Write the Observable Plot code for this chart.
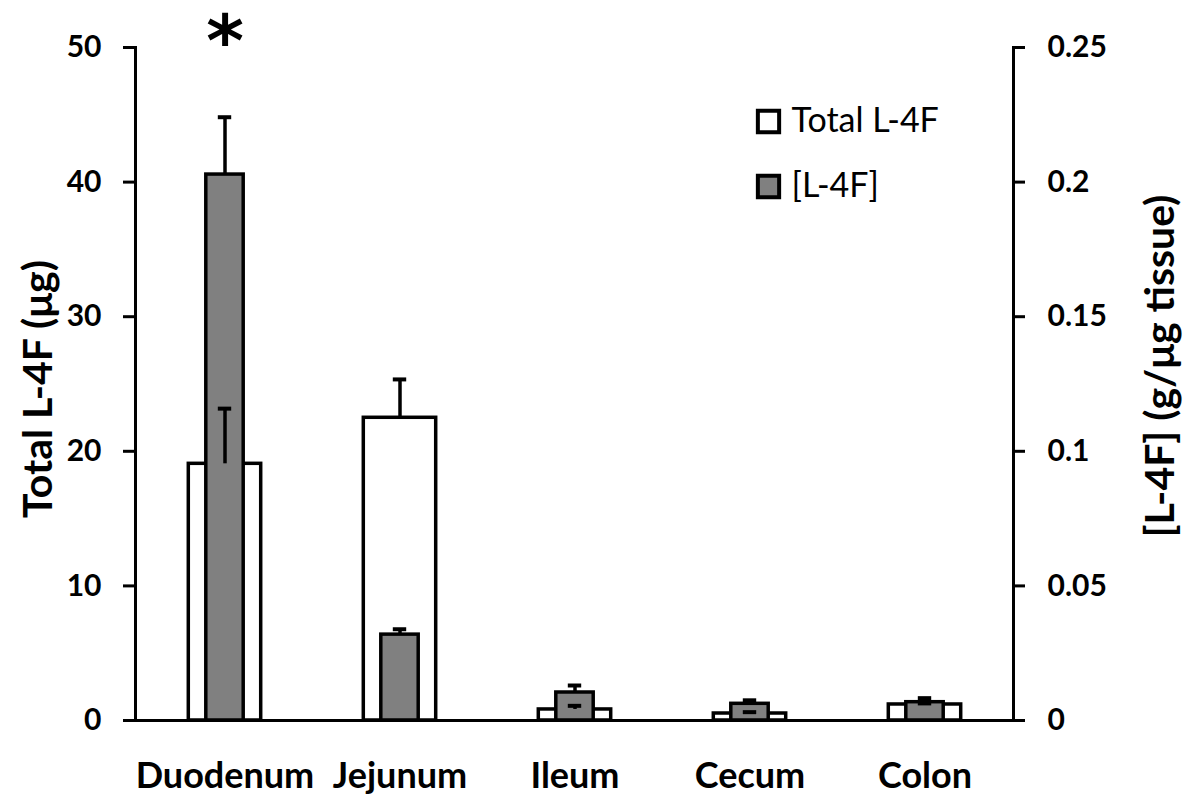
<!DOCTYPE html>
<html>
<head>
<meta charset="utf-8">
<script src="https://cdn.jsdelivr.net/npm/d3@7"></script>
<script src="https://cdn.jsdelivr.net/npm/@observablehq/plot@0.6"></script>
<style>
  html, body { margin: 0; padding: 0; background: #fff; }
  #chart svg { display: block; }
</style>
</head>
<body>
<div id="chart"></div>
<script>
const categories = ["Duodenum", "Jejunum", "Ileum", "Cecum", "Colon"];
const totalMean = [19.07, 22.49, 0.82, 0.52, 1.19];
const totalErr = [4.1, 2.85, 0.27, 0.1, 0.08];
const concMean = [0.2028, 0.0319, 0.0104, 0.0062, 0.0068];
const concErr = [0.0213, 0.0020, 0.0026, 0.0013, 0.0015];
const leftTicks = [0, 10, 20, 30, 40, 50];
const rightTicks = [0, 0.05, 0.1, 0.15, 0.2, 0.25];
const significance = [{cat: "Duodenum", mark: "*"}];
const legendItems = [
  {label: "Total L-4F", fill: "white"},
  {label: "[L-4F]", fill: "#808080"}
];

const ratio = 50 / 0.25; // right axis (concentration) mapped onto left axis scale
const rows = categories.map((c, i) => ({
  cat: c,
  total: totalMean[i], totalTop: totalMean[i] + totalErr[i],
  conc: concMean[i] * ratio, concTop: (concMean[i] + concErr[i]) * ratio
}));

const font = "Lato, 'Open Sans', sans-serif";
const W = 1186, H = 799;
const mL = 135, mR = 173, mT = 47, mB = 79;
const band = (W - mL - mR) / categories.length;
const wideInset = (band - 73) / 2;
const narrowInset = (band - 38) / 2;
const capInset = (band - 14) / 2;

const chart = Plot.plot({
  width: W, height: H,
  marginLeft: mL, marginRight: mR, marginTop: mT, marginBottom: mB,
  style: {fontFamily: font, fontWeight: "bold", color: "#000", background: "#fff"},
  x: {domain: categories, padding: 0, axis: null},
  y: {domain: [0, 50], axis: null},
  marks: [
    Plot.barY(rows, {x: "cat", y: "total", fill: "white", stroke: "black", strokeWidth: 3.5,
      insetLeft: wideInset, insetRight: wideInset}),
    Plot.barY(rows, {x: "cat", y: "conc", fill: "#808080", stroke: "black", strokeWidth: 3.5,
      insetLeft: narrowInset, insetRight: narrowInset}),
    Plot.ruleX(rows, {x: "cat", y1: "total", y2: "totalTop", stroke: "black", strokeWidth: 3.5}),
    Plot.tickY(rows, {x: "cat", y: "totalTop", stroke: "black", strokeWidth: 4,
      insetLeft: capInset, insetRight: capInset}),
    Plot.ruleX(rows, {x: "cat", y1: "conc", y2: "concTop", stroke: "black", strokeWidth: 3.5}),
    Plot.tickY(rows, {x: "cat", y: "concTop", stroke: "black", strokeWidth: 4,
      insetLeft: capInset, insetRight: capInset}),
    Plot.ruleY([0], {stroke: "black", strokeWidth: 3}),
    Plot.frame({anchor: "left", stroke: "black", strokeWidth: 3}),
    Plot.frame({anchor: "right", stroke: "black", strokeWidth: 3}),
    Plot.axisY({anchor: "left", ticks: leftTicks, tickSize: 12, tickPadding: 22,
      strokeWidth: 3, fontSize: 30, fontWeight: "bold", label: null}),
    Plot.axisY({anchor: "right", ticks: rightTicks.map(v => v * ratio), tickSize: 11, tickPadding: 23,
      tickFormat: d => String(+(d / ratio).toFixed(3)),
      strokeWidth: 3, fontSize: 30, fontWeight: "bold", label: null}),
    Plot.axisX({anchor: "bottom", tickSize: 0, tickPadding: 42, fontSize: 36, fontWeight: "bold", label: null}),
    Plot.text(["Total L-4F (μg)"], {frameAnchor: "left", dx: -97, dy: 5, rotate: -90,
      textAnchor: "middle", lineAnchor: "middle",
      fontSize: 41, fontWeight: "bold", text: d => d}),
    Plot.text(["[L-4F] (g/μg tissue)"], {frameAnchor: "right", dx: 147, dy: -18, rotate: -90,
      textAnchor: "middle", lineAnchor: "middle",
      fontSize: 41, fontWeight: "bold", text: d => d}),
    Plot.text(significance, {x: "cat", frameAnchor: "top", text: "mark", dy: -33,
      lineAnchor: "top", fontFamily: "'DejaVu Sans', sans-serif",
      fontSize: 72, fontWeight: "bold"}),
    Plot.dot([legendItems[0]], {frameAnchor: "top-left", dx: 633, dy: 74, symbol: "square", r: 12,
      fill: "fill", stroke: "black", strokeWidth: 4}),
    Plot.dot([legendItems[1]], {frameAnchor: "top-left", dx: 633, dy: 139, symbol: "square", r: 12,
      fill: "fill", stroke: "black", strokeWidth: 4}),
    Plot.text([legendItems[0]], {frameAnchor: "top-left", dx: 656, dy: 74, text: "label",
      textAnchor: "start", lineAnchor: "middle", fontSize: 34, fontWeight: "normal"}),
    Plot.text([legendItems[1]], {frameAnchor: "top-left", dx: 656, dy: 139, text: "label",
      textAnchor: "start", lineAnchor: "middle", fontSize: 34, fontWeight: "normal"})
  ]
});
document.getElementById("chart").appendChild(chart);
</script>
</body>
</html>
